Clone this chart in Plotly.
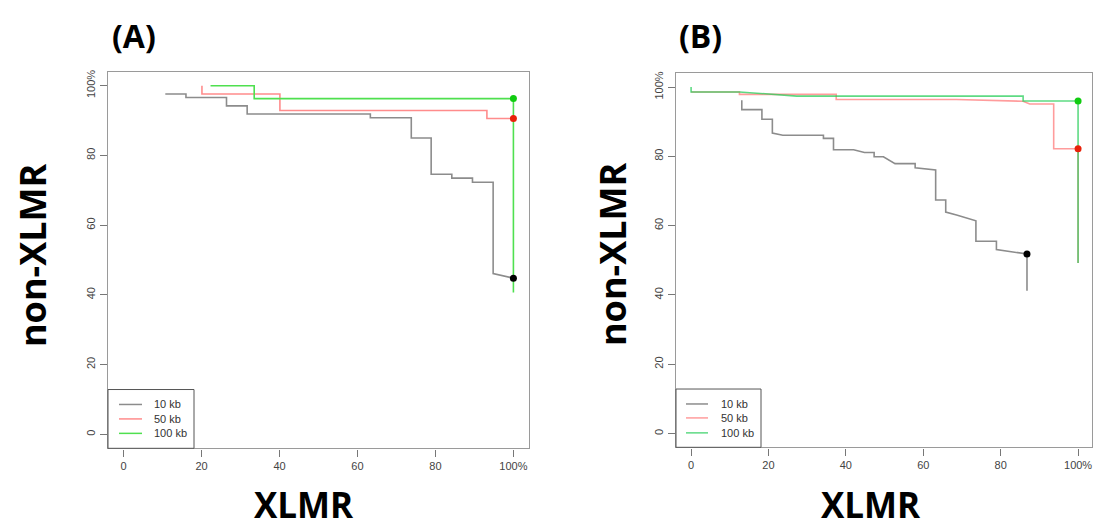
import plotly.graph_objects as go

# ---------------- data ----------------
tick_vals = [0, 20, 40, 60, 80, 100]
tick_text = ["0", "20", "40", "60", "80", "100%"]
series_names = ["10 kb", "50 kb", "100 kb"]

# Panel A
a10_x = [10.7, 16.0, 16.0, 26.4, 26.4, 31.7, 31.7, 63.3, 63.3, 73.8, 73.8, 78.9, 78.9, 84.2, 84.2, 89.5, 89.5, 94.8, 94.8, 100.0]
a10_y = [97.6, 97.6, 96.6, 96.6, 94.2, 94.2, 91.9, 91.9, 90.8, 90.8, 85.0, 85.0, 74.6, 74.6, 73.5, 73.5, 72.3, 72.3, 46.1, 44.8]
a50_x = [20.1, 20.1, 40.1, 40.1, 93.2, 93.2, 100.0]
a50_y = [100.0, 97.6, 97.6, 92.9, 92.9, 90.6, 90.6]
a100_x = [22.3, 33.5, 33.5, 100.0, 100.0]
a100_y = [100.0, 100.0, 96.3, 96.3, 40.7]
a_end_x = [100.0, 100.0, 100.0]
a_end_y = [44.8, 90.6, 96.3]

# Panel B
b10_x = [13.1, 13.1, 18.3, 18.3, 21.0, 21.0, 23.7, 34.2, 34.2, 36.8, 36.8, 42.0, 44.8, 47.3, 47.3, 49.7, 52.7, 57.9, 57.9, 63.2, 63.2, 65.8, 65.8, 68.6, 73.6, 73.6, 78.9, 78.9, 86.8, 86.8]
b10_y = [96.2, 93.5, 93.5, 90.7, 90.7, 86.7, 86.1, 86.1, 85.2, 85.2, 81.9, 81.9, 81.1, 81.1, 79.9, 79.9, 77.9, 77.9, 76.7, 76.1, 67.4, 67.4, 63.9, 63.1, 61.4, 55.5, 55.5, 53.1, 51.8, 41.2]
b50_x = [0.0, 12.5, 12.5, 37.5, 37.5, 68.6, 85.8, 87.5, 93.7, 93.7, 100.0, 100.0]
b50_y = [98.6, 98.6, 97.9, 97.9, 96.4, 96.4, 95.9, 95.1, 95.1, 82.2, 82.2, 49.2]
b100_x = [0.0, 0.0, 12.5, 27.3, 85.8, 85.8, 100.0, 100.0]
b100_y = [100.0, 98.6, 98.6, 97.4, 97.4, 96.0, 96.0, 49.2]
b_end_x = [86.8, 100.0, 100.0]
b_end_y = [51.8, 82.2, 96.0]

# ---------------- styles ----------------
line_colors_a = ["#8c8c8c", "#ff8c8c", "#4fe04f"]
line_colors_b = ["#8c8c8c", "rgba(255,90,90,0.6)", "rgba(40,205,90,0.75)"]
end_colors = ["#000000", "#e8220a", "#11cc11"]
W, H = 1094, 529


def px_x(p):
    return p / W


def px_y(p):
    return 1 - p / H


fig = go.Figure()


def add_panel(xs, ys, ex, ey, xa, ya, line_cols):
    for i in range(3):
        fig.add_trace(go.Scatter(
            x=xs[i], y=ys[i], mode="lines", name=series_names[i],
            line=dict(color=line_cols[i], width=1.6),
            xaxis=xa, yaxis=ya, showlegend=False, hoverinfo="skip"))
    for i in range(3):
        fig.add_trace(go.Scatter(
            x=[ex[i]], y=[ey[i]], mode="markers",
            marker=dict(color=end_colors[i], size=7),
            xaxis=xa, yaxis=ya, showlegend=False, hoverinfo="skip"))


add_panel([a10_x, a50_x, a100_x], [a10_y, a50_y, a100_y], a_end_x, a_end_y,
          "x", "y", line_colors_a)
add_panel([b10_x, b50_x, b100_x], [b10_y, b50_y, b100_y], b_end_x, b_end_y,
          "x2", "y2", line_colors_b)

tickfont = dict(family="Liberation Sans", size=11, color="#444444")
axis_common = dict(
    range=[-4, 104], tickvals=tick_vals, ticktext=tick_text, tickfont=tickfont,
    showgrid=False, zeroline=False, showline=True, mirror=True,
    linecolor="#9a9a9a", linewidth=1.4, ticks="outside", ticklen=7,
    tickcolor="#777777", tickwidth=1.2,
)

fig.update_layout(
    width=W, height=H, margin=dict(l=0, r=0, t=0, b=0),
    paper_bgcolor="white", plot_bgcolor="white", showlegend=False,
    xaxis=dict(axis_common, domain=[px_x(108), px_x(529)], anchor="y"),
    yaxis=dict(axis_common, domain=[px_y(448), px_y(70)], anchor="x", tickangle=-90),
    xaxis2=dict(axis_common, domain=[px_x(676), px_x(1092)], anchor="y2", range=[-3.9, 103.6]),
    yaxis2=dict(axis_common, domain=[px_y(447), px_y(71.5)], anchor="x2", tickangle=-90),
)

# ---------------- legends (box, line samples, labels) ----------------
shapes = []
annotations = []
legend_font = dict(family="Liberation Sans", size=11, color="#333333")


def add_legend(box_l, box_r, box_t, box_b, line_l, line_r, text_x, rows, cols):
    shapes.append(dict(type="rect", xref="paper", yref="paper",
                       x0=px_x(box_l), x1=px_x(box_r), y0=px_y(box_b), y1=px_y(box_t),
                       line=dict(color="#555555", width=1), fillcolor="white", layer="above"))
    for i, ry in enumerate(rows):
        shapes.append(dict(type="line", xref="paper", yref="paper",
                           x0=px_x(line_l), x1=px_x(line_r), y0=px_y(ry), y1=px_y(ry),
                           line=dict(color=cols[i], width=1.5), layer="above"))
        annotations.append(dict(text=series_names[i], x=px_x(text_x), y=px_y(ry),
                                xanchor="left", yanchor="middle", font=legend_font,
                                xref="paper", yref="paper", showarrow=False))


add_legend(108, 194, 389, 448, 119, 142, 152, [404, 418.5, 433], line_colors_a)
add_legend(676, 761, 388.5, 447, 686, 708, 718.5, [403.5, 417.5, 432.5], line_colors_b)

# ---------------- titles ----------------
title_font = dict(family="Open Sans", size=32, color="#000000", weight="bold")
label_font = dict(family="Open Sans", size=35, color="#000000", weight="bold")
ylabel_font = dict(family="Open Sans", size=36, color="#000000", weight="bold")
for a in [
    dict(text="(A)", x=px_x(134), y=px_y(34), font=title_font),
    dict(text="(B)", x=px_x(700), y=px_y(34), font=title_font),
    dict(text="XLMR", x=px_x(304), y=px_y(504), font=label_font),
    dict(text="XLMR", x=px_x(871), y=px_y(504), font=label_font),
    dict(text="non-XLMR", x=px_x(32), y=px_y(255), font=ylabel_font, textangle=-90),
    dict(text="non-XLMR", x=px_x(612), y=px_y(254), font=ylabel_font, textangle=-90),
]:
    a.update(xref="paper", yref="paper", showarrow=False, xanchor="center", yanchor="middle")
    annotations.append(a)

fig.update_layout(shapes=shapes, annotations=annotations)

fig.write_html("out.html")
